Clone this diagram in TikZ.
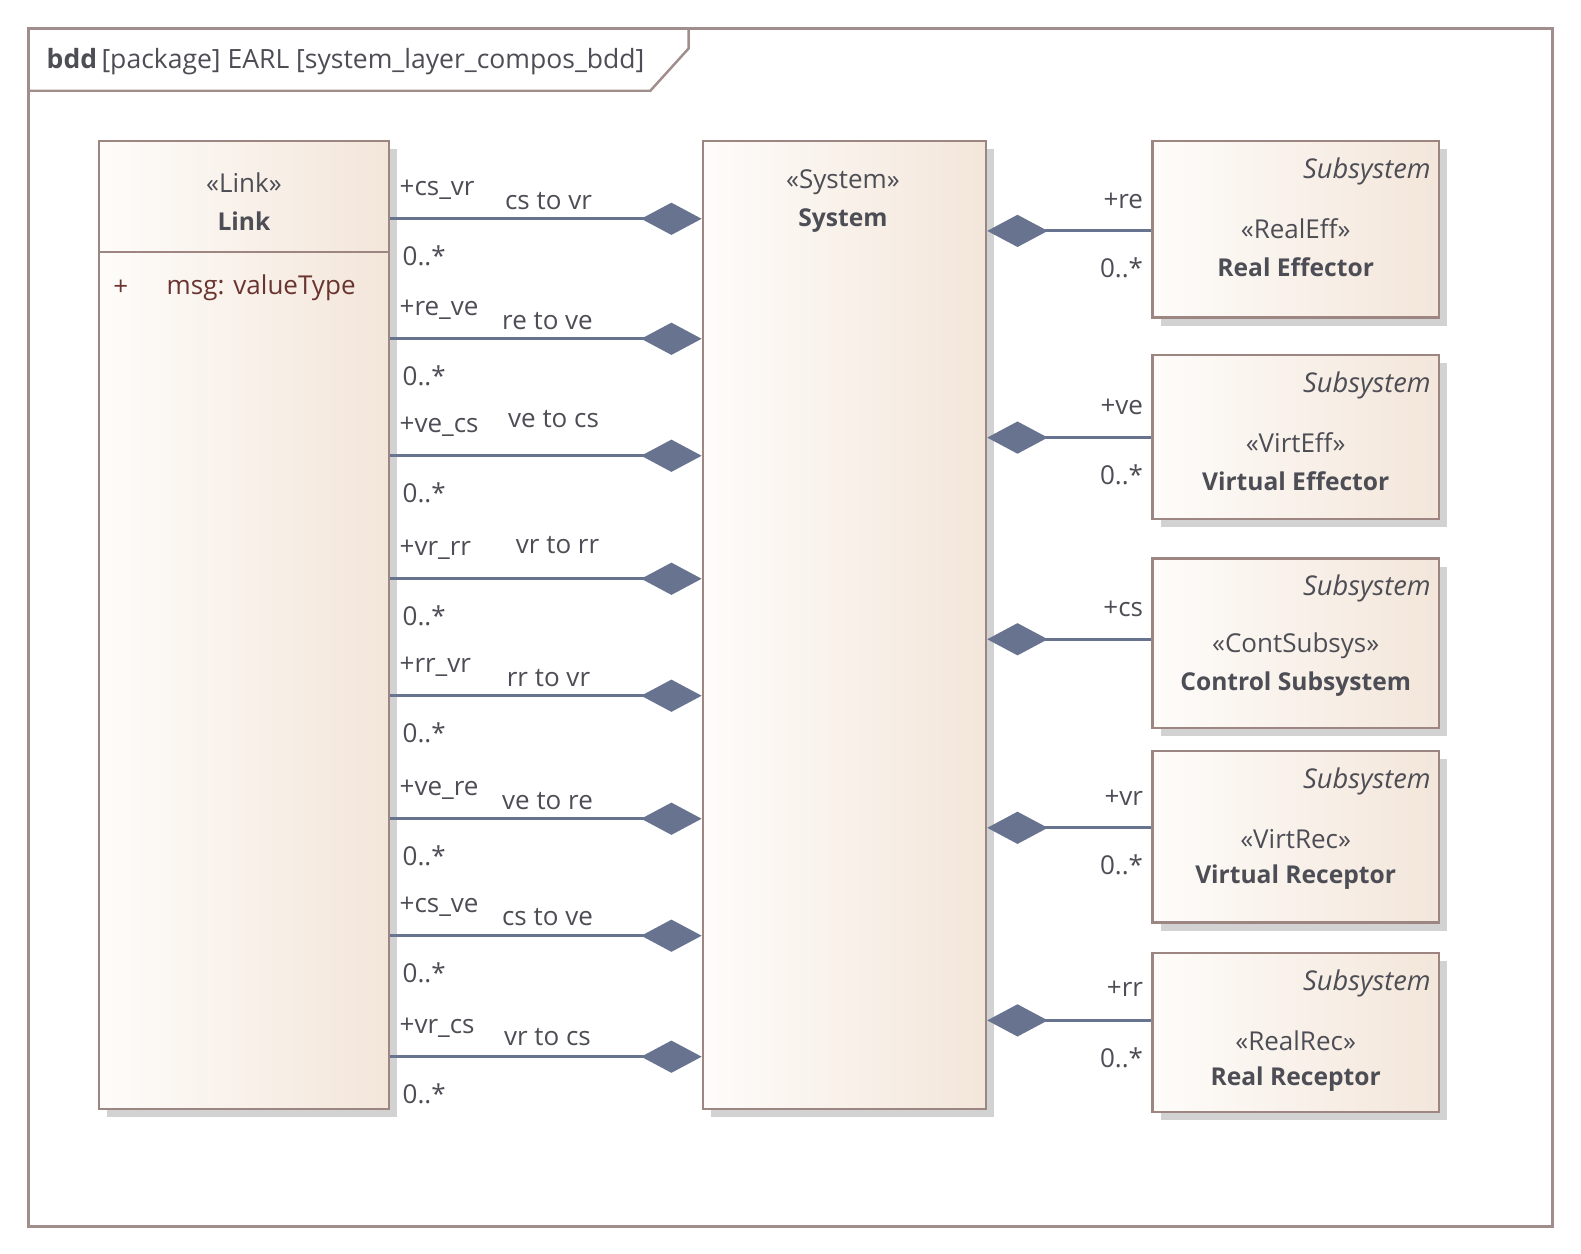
\documentclass[tikz,border=0pt]{standalone}
\usepackage{fontspec}
\setmainfont{Open Sans}
\usetikzlibrary{shapes,arrows.meta,positioning,shadows}
\usepackage{xcolor}
\definecolor{frameC}{HTML}{A08E8C}
\definecolor{boxC}{HTML}{9D8682}
\definecolor{fillL}{HTML}{FEFCFA}
\definecolor{fillR}{HTML}{F3E6DA}
\definecolor{connC}{HTML}{687390}
\definecolor{txtC}{HTML}{4D4D55}
\definecolor{attrC}{HTML}{6A3530}
\definecolor{shadowC}{HTML}{D2D2D2}
\newlength\unitpx
\setlength\unitpx{0.02017cm}

\begin{document}
\begin{tikzpicture}[x=\unitpx,y=-\unitpx]
      \tikzstyle{block} = [rectangle, draw=boxC, line width=1.3pt, left color=fillL, right color=fillR, inner sep=0pt, drop shadow={shadow xshift=0.161cm, shadow yshift=-0.161cm, fill=shadowC, opacity=1}]
      \tikzstyle{lbl} = [text=txtC, font=\fontsize{14.8}{17}\selectfont, inner sep=0pt, yshift=-3\unitpx]
      \tikzstyle{title} = [lbl, font=\fontsize{14}{17}\selectfont\bfseries]
      \tikzstyle{comp} = [draw=connC, line width=1.7pt, -{Diamond[length=1.21cm, width=0.645cm]}]

      \useasboundingbox (0,0) rectangle (1568,1243.5);

      % frame
      \draw[frameC, line width=1.8pt] (28,28) rectangle (1540,1216);
      \draw[frameC, line width=1.4pt] (28,90) -- (645,90) -- (683,48) -- (683,28);
      \node[lbl, anchor=west, font=\fontsize{15.1}{17}\selectfont] (frametitle) at (46,58) {\textbf{bdd}\,[package] EARL [system\_layer\_compos\_bdd]};

      % blocks
      \node[block, minimum width=288\unitpx, minimum height=960\unitpx] (link) at (242,620) {};
      \node[block, minimum width=281\unitpx, minimum height=960\unitpx] (sys) at (837.5,620) {};
      \node[block, minimum width=284\unitpx, minimum height=175\unitpx] (re) at (1285,227.5) {};
      \node[block, minimum width=284\unitpx, minimum height=163\unitpx] (ve) at (1285,433.5) {};
      \node[block, minimum width=284\unitpx, minimum height=168\unitpx] (cs) at (1285,638) {};
      \node[block, minimum width=284\unitpx, minimum height=170\unitpx] (vr) at (1285,830) {};
      \node[block, minimum width=284\unitpx, minimum height=158\unitpx] (rr) at (1285,1024) {};
      \draw[boxC, line width=1.3pt] (link.west |- 0,250) -- (link.east |- 0,250);

      \node[lbl] (linkst) at (242,178) {«Link»};
      \node[title] (linkname) at (242,216) {Link};
      \node[lbl, text=attrC, anchor=west] (attrplus) at (112,282) {+};
      \node[lbl, text=attrC, anchor=west] (attr) at (165,282) {msg: valueType};

      \node[lbl] (sysst) at (836,178) {«System»};
      \node[title] (sysname) at (836,216) {System};

      \foreach \n/\st/\nm in {re/RealEff/Real Effector, ve/VirtEff/Virtual Effector, cs/ContSubsys/Control Subsystem, vr/VirtRec/Virtual Receptor, rr/RealRec/Real Receptor} {
        \node[lbl, anchor=east, font=\fontsize{15.5}{17}\selectfont\itshape] (\n kind) at ([xshift=-9\unitpx, yshift=-28\unitpx]\n.north east) {Subsystem};
        \node[lbl] (\n st) at ([yshift=-85\unitpx]\n.north) {«\st»};
        \node[title] (\n name) at ([yshift=-123\unitpx]\n.north) {\nm};
      }

      % link to system
      \foreach \y/\role in {217/cs\_vr, 336/re\_ve, 452/ve\_cs, 574/vr\_rr, 690/rr\_vr, 812/ve\_re, 928/cs\_ve, 1048/vr\_cs} {
        \draw[comp] (link.east |- 0,\y) -- (sys.west |- 0,\y);
        \node[lbl, anchor=west] (r\y) at (396,\y-32) {+\role};
        \node[lbl, anchor=west] (m\y) at (399,\y+34) {0..*};
      }
      \node[lbl] (n217) at (544,196) {cs to vr};
      \node[lbl] (n336) at (543,315) {re to ve};
      \node[lbl] (n452) at (549,413) {ve to cs};
      \node[lbl] (n574) at (553,538) {vr to rr};
      \node[lbl] (n690) at (544,669) {rr to vr};
      \node[lbl] (n812) at (543,791) {ve to re};
      \node[lbl] (n928) at (543,907) {cs to ve};
      \node[lbl] (n1048) at (543,1026) {vr to cs};

      % subsystems to system
      \draw[comp] (re.west |- 0,229) -- (sys.east |- 0,229);
      \draw[comp] (ve.west |- 0,434) -- (sys.east |- 0,434);
      \draw[comp] (cs.west |- 0,634) -- (sys.east |- 0,634);
      \draw[comp] (vr.west |- 0,821) -- (sys.east |- 0,821);
      \draw[comp] (rr.west |- 0,1012) -- (sys.east |- 0,1012);

      \node[lbl, anchor=east] (rre) at (1134,196) {+re};
      \node[lbl, anchor=east] (mre) at (1134,263) {0..*};
      \node[lbl, anchor=east] (rve) at (1134,401) {+ve};
      \node[lbl, anchor=east] (mve) at (1134,468) {0..*};
      \node[lbl, anchor=east] (rcs) at (1134,601) {+cs};
      \node[lbl, anchor=east] (rvr) at (1134,788) {+vr};
      \node[lbl, anchor=east] (mvr) at (1134,855) {0..*};
      \node[lbl, anchor=east] (rrr) at (1134,978) {+rr};
      \node[lbl, anchor=east] (mrr) at (1134,1046) {0..*};
\end{tikzpicture}
\end{document}
